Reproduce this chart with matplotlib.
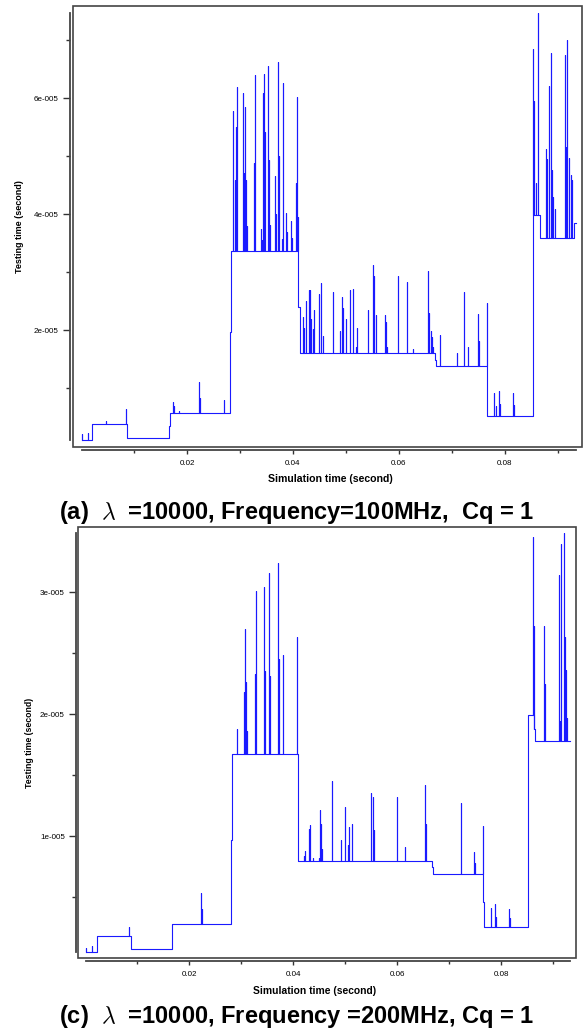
import matplotlib
matplotlib.use('Agg')
import matplotlib.pyplot as plt
from matplotlib.patches import Rectangle

plt.rcParams['font.family'] = ['Liberation Sans', 'DejaVu Sans']
plt.rcParams['mathtext.fontset'] = 'cm'

# ---- panel (a): lambda=10000, 100MHz ----
a_step_t = [0.0001, 0.00208, 0.00868, 0.01655, 0.01685, 0.02806, 0.02825, 0.0410,
            0.04123, 0.06674, 0.06685, 0.06698, 0.07668, 0.08523, 0.0866, 0.0930]
a_step_v = [1.1e-6, 3.9e-6, 1.5e-6, 3.5e-6, 5.7e-6, 1.98e-5, 3.37e-5, 2.41e-5,
            1.61e-5, 1.58e-5, 1.49e-5, 1.39e-5, 5.3e-6, 3.99e-5, 3.59e-5, 3.85e-5]
a_end = 0.0934
a_spike_t = [0.0001, 0.0013, 0.00466, 0.00849, 0.01742, 0.0176, 0.01855, 0.02232, 0.0224, 0.02698,
             0.02874, 0.02906, 0.0293, 0.02943, 0.03062, 0.03081, 0.031, 0.03119, 0.03132, 0.0327,
             0.03289, 0.0339, 0.03409, 0.03434, 0.03447, 0.03458, 0.03477, 0.03534, 0.03547, 0.03566,
             0.0366, 0.03679, 0.03711, 0.0373, 0.03787, 0.03806, 0.03862, 0.03881, 0.03962, 0.03987,
             0.04057, 0.04075, 0.04089,
             0.04194, 0.04213, 0.0424, 0.04302, 0.04326, 0.0434, 0.04372, 0.04396, 0.04496, 0.04528,
             0.0456, 0.04749, 0.04892, 0.0493, 0.04949, 0.04994, 0.0507, 0.05081, 0.05138, 0.05183,
             0.05213, 0.05421, 0.05504, 0.05534, 0.0556, 0.05736, 0.05755, 0.05779, 0.05987, 0.06145,
             0.0627, 0.06553, 0.06566, 0.06598, 0.06623, 0.06647,
             0.06779, 0.07089, 0.07232, 0.07296, 0.07496, 0.07515, 0.07662,
             0.07798, 0.07825, 0.07881, 0.079, 0.08157, 0.08175,
             0.08534, 0.08543, 0.08591, 0.08628, 0.08768, 0.08798, 0.08836, 0.08862, 0.08892, 0.08911,
             0.08943, 0.09132, 0.09151, 0.09164, 0.09213, 0.0924, 0.0927]
a_spike_v = [2.2e-6, 2.3e-6, 4.4e-6, 6.5e-6, 7.7e-6, 6.9e-6, 6.1e-6, 1.11e-5, 8.4e-6, 8.1e-6,
             5.78e-5, 4.59e-5, 5.51e-5, 6.19e-5, 6.09e-5, 4.71e-5, 5.86e-5, 4.6e-5, 3.8e-5, 4.89e-5,
             6.4e-5, 3.75e-5, 3.56e-5, 6.09e-5, 6.43e-5, 5.23e-5, 5.42e-5, 6.56e-5, 4.94e-5, 3.82e-5,
             4.66e-5, 4.0e-5, 6.63e-5, 5.0e-5, 3.58e-5, 6.26e-5, 4.03e-5, 3.7e-5, 3.89e-5, 3.6e-5,
             4.55e-5, 6.02e-5, 3.95e-5,
             2.24e-5, 2.05e-5, 2.5e-5, 2.69e-5, 2.69e-5, 2.19e-5, 2.03e-5, 2.35e-5, 2.63e-5, 2.82e-5,
             1.9e-5, 2.67e-5, 1.99e-5, 2.57e-5, 2.38e-5, 2.19e-5, 2.15e-5, 2.7e-5, 2.71e-5, 1.72e-5,
             2.05e-5, 2.35e-5, 3.13e-5, 2.94e-5, 2.26e-5, 2.27e-5, 2.15e-5, 1.72e-5, 2.94e-5, 2.83e-5,
             1.68e-5, 3.03e-5, 2.31e-5, 1.99e-5, 1.88e-5, 1.71e-5,
             1.92e-5, 1.62e-5, 2.67e-5, 1.72e-5, 2.28e-5, 1.82e-5, 2.48e-5,
             9.2e-6, 6.9e-6, 9.6e-6, 7.3e-6, 9.2e-6, 7.2e-6,
             6.86e-5, 5.96e-5, 4.55e-5, 7.47e-5, 5.13e-5, 4.96e-5, 6.22e-5, 6.79e-5, 4.77e-5, 4.3e-5,
             4.09e-5, 6.75e-5, 5.17e-5, 7.0e-5, 4.97e-5, 4.68e-5, 4.6e-5]

# ---- panel (c): lambda=10000, 200MHz ----
c_step_t = [0.0002, 0.00225, 0.00885, 0.01667, 0.01679, 0.02813, 0.02833, 0.0409,
            0.06667, 0.06698, 0.0766, 0.07679, 0.08513, 0.08635, 0.08654]
c_step_v = [4.7e-7, 1.83e-6, 7.4e-7, 1.7e-6, 2.76e-6, 9.7e-6, 1.67e-5, 7.98e-6,
            7.5e-6, 6.9e-6, 4.6e-6, 2.57e-6, 1.99e-5, 1.88e-5, 1.78e-5]
c_end = 0.0933
c_spike_t = [0.0002, 0.0014, 0.00852, 0.02231, 0.02244,
             0.02929, 0.03052, 0.03071, 0.03083, 0.03102, 0.03115, 0.03275, 0.03294, 0.03437, 0.03448,
             0.03467, 0.03533, 0.03552, 0.03712, 0.03725, 0.03798, 0.04081,
             0.04217, 0.04237, 0.04308, 0.04327, 0.0439, 0.04494, 0.04525, 0.04544, 0.04563, 0.04756,
             0.04929, 0.04994, 0.05063, 0.05083, 0.0514, 0.05506, 0.05538, 0.05558, 0.05994, 0.06148,
             0.06544, 0.06558,
             0.07225, 0.07487, 0.07506, 0.07655,
             0.07802, 0.0789, 0.07904, 0.08154, 0.08173,
             0.08621, 0.0864, 0.08827, 0.0884, 0.09121, 0.0914, 0.0916, 0.09212, 0.09231, 0.0925, 0.09269]
c_spike_v = [8.4e-7, 1.0e-6, 2.57e-6, 5.35e-6, 4.0e-6,
             1.88e-5, 2.18e-5, 2.7e-5, 2.47e-5, 2.26e-5, 1.86e-5, 2.33e-5, 3.01e-5, 2.71e-5, 3.04e-5,
             2.35e-5, 3.16e-5, 2.31e-5, 3.24e-5, 2.45e-5, 2.48e-5, 2.63e-5,
             8.4e-6, 8.8e-6, 1.06e-5, 1.09e-5, 8.2e-6, 8.2e-6, 1.21e-5, 1.1e-5, 8.9e-6, 1.45e-5,
             9.7e-6, 1.24e-5, 9.3e-6, 1.07e-5, 1.1e-5, 1.35e-5, 1.32e-5, 1.05e-5, 1.32e-5, 9.1e-6,
             1.42e-5, 1.1e-5,
             1.27e-5, 8.7e-6, 7.8e-6, 1.08e-5,
             4.1e-6, 4.4e-6, 3.4e-6, 4.0e-6, 3.3e-6,
             3.45e-5, 2.72e-5, 2.72e-5, 2.25e-5, 3.14e-5, 1.94e-5, 3.39e-5, 3.48e-5, 2.63e-5, 2.36e-5, 1.97e-5]

x_major = [0.02, 0.04, 0.06, 0.08]
x_minor = [0.01, 0.03, 0.05, 0.07, 0.09]
a_y_major = [2e-5, 4e-5, 6e-5]
a_y_minor = [1e-5, 3e-5, 5e-5, 7e-5]
c_y_major = [1e-5, 2e-5, 3e-5]
c_y_minor = [5e-6, 1.5e-5, 2.5e-5]

caption_a = r'(a)  $\lambda$  =10000, Frequency=100MHz,  Cq = 1'
caption_c = r'(c)  $\lambda$  =10000, Frequency =200MHz, Cq = 1'


def trace(step_t, step_v, t_end, spike_t, spike_v):
    ev = [(t, 0, v) for t, v in zip(step_t[1:], step_v[1:])]
    ev += [(t, 1, v) for t, v in zip(spike_t, spike_v)]
    ev.sort()
    xs, ys = [step_t[0]], [step_v[0]]
    lvl = step_v[0]
    for t, kind, v in ev:
        if kind == 0:
            xs += [t, t]
            ys += [lvl, v]
            lvl = v
        else:
            xs += [t, t, t]
            ys += [lvl, v, lvl]
    xs.append(t_end)
    ys.append(lvl)
    return xs, ys


def sci(v, pos=None):
    m, e = ('%.0e' % v).split('e')
    return '%se-%03d' % (m, abs(int(e)))


def panel(rect, xlim, ylim, data, ymaj, ymin, yoff, xoff):
    ax = fig.add_axes(rect)
    xs, ys = trace(*data)
    ax.plot(xs, ys, color='#1a1aff', lw=0.8)
    ax.set_xlim(*xlim)
    ax.set_ylim(*ylim)
    ax.add_patch(Rectangle((0, 0), 1, 1, transform=ax.transAxes, fill=False,
                           ec='#444444', lw=1.2, clip_on=False))
    for s in ['top', 'right']:
        ax.spines[s].set_visible(False)
    ax.spines['left'].set_position(('outward', yoff))
    ax.spines['bottom'].set_position(('outward', xoff))
    ax.spines['left'].set_bounds(min(ys), max(ys))
    ax.spines['bottom'].set_bounds(xs[0], xs[-1])
    for s in ['left', 'bottom']:
        ax.spines[s].set_color('#444444')
        ax.spines[s].set_linewidth(1.3)
    ax.set_xticks(x_major)
    ax.set_xticks(x_minor, minor=True)
    ax.set_xticklabels(['%.2f' % v for v in x_major])
    ax.set_yticks(ymaj)
    ax.set_yticks(ymin, minor=True)
    ax.set_yticklabels([sci(v) for v in ymaj])
    ax.tick_params(axis='y', which='major', length=5, width=1, pad=3, labelsize=5.8, color='#333333')
    ax.tick_params(axis='y', which='minor', length=3, width=1, color='#333333')
    ax.tick_params(axis='x', which='major', length=3.2, width=1, pad=4, labelsize=5.8, color='#333333')
    ax.tick_params(axis='x', which='minor', length=2.2, width=1, color='#333333')
    return ax


fig = plt.figure(figsize=(5.83, 10.35), dpi=100)

panel([73 / 583, 1 - 447 / 1035, 509 / 583, 441 / 1035],
      (-0.00151, 0.09453), (-8.6e-8, 7.594e-5),
      (a_step_t, a_step_v, a_end, a_spike_t, a_spike_v),
      a_y_major, a_y_minor, 2.2, 2.0)
fig.text(330 / 583, 1 - 479 / 1035, 'Simulation time (second)', ha='center', va='center',
         fontsize=7.6, fontweight='bold')
fig.text(20 / 583, 1 - 226.5 / 1035, 'Testing time (second)', ha='center', va='center',
         rotation=90, fontsize=6.5, fontweight='bold')
fig.text(297 / 583, 1 - 513 / 1035, caption_a, ha='center', va='center',
         fontsize=17, fontweight='bold')

panel([78 / 583, 1 - 958 / 1035, 498 / 583, 431 / 1035],
      (-0.001346, 0.09442), (0, 3.533e-5),
      (c_step_t, c_step_v, c_end, c_spike_t, c_spike_v),
      c_y_major, c_y_minor, 1.5, 2.4)
fig.text(315 / 583, 1 - 991 / 1035, 'Simulation time (second)', ha='center', va='center',
         fontsize=7.4, fontweight='bold')
fig.text(30 / 583, 1 - 743 / 1035, 'Testing time (second)', ha='center', va='center',
         rotation=90, fontsize=6.3, fontweight='bold')
fig.text(297 / 583, 1 - 1017 / 1035, caption_c, ha='center', va='center',
         fontsize=17, fontweight='bold')

plt.savefig('out.png', dpi=100)
